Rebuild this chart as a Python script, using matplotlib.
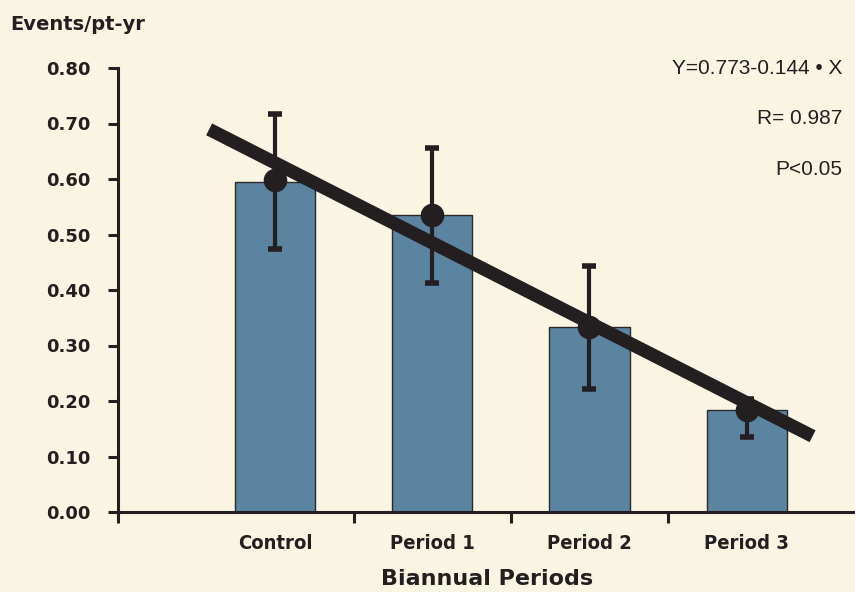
import matplotlib
matplotlib.use("Agg")
import matplotlib.pyplot as plt
import numpy as np

categories = ["Control", "Period 1", "Period 2", "Period 3"]
bar_values = [0.595, 0.535, 0.333, 0.183]
point_values = [0.598, 0.535, 0.333, 0.184]
err_low = [0.124, 0.122, 0.111, 0.048]
err_high = [0.119, 0.121, 0.110, 0.020]
intercept = 0.773
slope = -0.144
y_ticks = [0.0, 0.1, 0.2, 0.3, 0.4, 0.5, 0.6, 0.7, 0.8]
y_tick_labels = ["0.00", "0.10", "0.20", "0.30", "0.40", "0.50", "0.60", "0.70", "0.80"]
annotations = ["Y=0.773-0.144 \u2022 X", "R= 0.987", "P<0.05"]

BG = "#faf5e3"
BAR = "#5b84a1"
INK = "#231f20"

fig = plt.figure(figsize=(8.55, 5.92), dpi=100, facecolor=BG)
ax = fig.add_axes([118/855, 80/592, 1 - 118/855, (512-68)/592])
ax.set_facecolor(BG)

x = np.arange(1, len(categories) + 1)
ax.bar(x, bar_values, width=0.51, color=BAR, edgecolor="#2a2a2a", linewidth=1.0, zorder=2)

xl = np.array([0.58, 4.42])
ax.plot(xl, intercept + slope * xl, color=INK, lw=9.5, solid_capstyle="butt", zorder=3)

ax.errorbar(x, point_values, yerr=[err_low, err_high], fmt="o", color=INK,
            ecolor=INK, elinewidth=3, capsize=5, capthick=4, markersize=16, zorder=4)

ax.set_xlim(0, 4.69)
ax.set_ylim(0, 0.8)

for s in ["top", "right"]:
    ax.spines[s].set_visible(False)
ax.spines["left"].set_linewidth(2.2)
ax.spines["bottom"].set_linewidth(2.2)
ax.spines["left"].set_color(INK)
ax.spines["bottom"].set_color(INK)

ax.set_yticks(y_ticks)
ax.set_yticklabels(y_tick_labels, fontsize=13, fontweight="bold", color=INK, family="DejaVu Sans")
ax.tick_params(axis="y", length=7, width=2.2, pad=13, color=INK)

ax.set_xticks(x)
ax.set_xticklabels(categories, fontsize=14.5, fontweight="bold", color=INK,
                   family="DejaVu Sans", fontstretch="condensed")
ax.tick_params(axis="x", which="major", length=0, pad=16)
ax.set_xticks([0, 1.5, 2.5, 3.5], minor=True)
ax.tick_params(axis="x", which="minor", length=8, width=2.2, color=INK)

fig.text(10/855, 1 - 24/592, "Events/pt-yr", fontsize=14, fontweight="bold", color=INK,
         ha="left", va="center", family="DejaVu Sans")
fig.text(487/855, 1 - 579/592, "Biannual Periods", fontsize=16, fontweight="bold", color=INK,
         ha="center", va="center", family="DejaVu Sans")

for i, t in enumerate(annotations):
    fig.text(842/855, 1 - (69 + 50*i)/592, t, fontsize=15, color=INK, ha="right",
             va="center", family="Liberation Sans")

fig.savefig("out.png", dpi=100, facecolor=BG)
